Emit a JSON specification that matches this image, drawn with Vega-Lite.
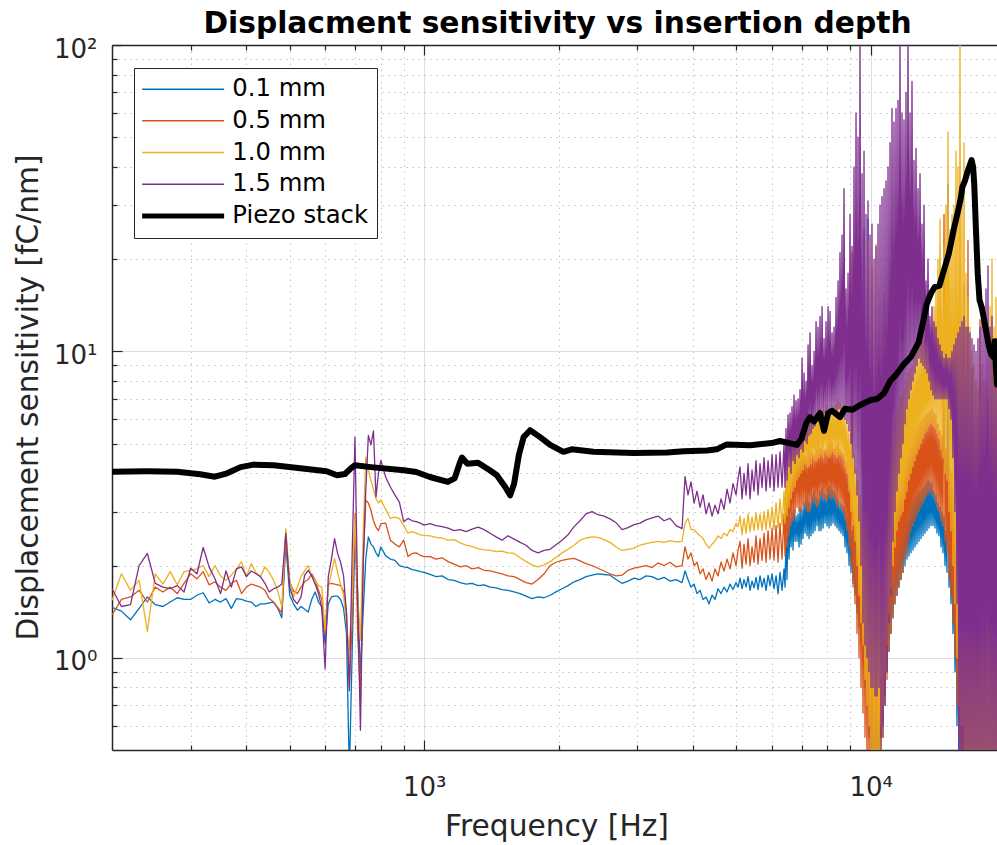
{
  "$schema": "https://vega.github.io/schema/vega-lite/v6.json",
  "width": 885,
  "height": 705,
  "autosize": {"type": "none"},
  "padding": {"left": 112, "top": 45, "right": 0, "bottom": 95},
  "background": "white",
  "title": {
    "text": "Displacment sensitivity vs insertion depth",
    "font": "DejaVu Sans",
    "fontSize": 29.7,
    "fontWeight": "bold",
    "color": "black",
    "anchor": "middle",
    "frame": "group",
    "baseline": "alphabetic",
    "offset": -27,
    "dx": 3
  },
  "config": {
    "view": {"stroke": null},
    "font": "DejaVu Sans"
  },
  "datasets": {
    "curves": [
      {"f":200,"a":1.46,"b":1.38,"c":1.54,"d":1.68},
      {"f":210,"a":1.42,"b":1.55,"c":1.88,"d":1.47},
      {"f":220,"a":1.33,"b":1.58,"c":1.66,"d":1.49},
      {"f":230,"a":1.45,"b":1.66,"c":1.79,"d":2.00},
      {"f":240,"a":1.58,"b":1.52,"c":1.22,"d":2.19},
      {"f":250,"a":1.49,"b":1.70,"c":1.88,"d":1.75},
      {"f":260,"a":1.47,"b":1.64,"c":1.74,"d":1.70},
      {"f":270,"a":1.52,"b":1.70,"c":1.91,"d":1.68},
      {"f":280,"a":1.57,"b":1.62,"c":1.73,"d":1.72},
      {"f":290,"a":1.55,"b":1.75,"c":1.91,"d":1.64},
      {"f":300,"a":1.55,"b":1.88,"c":1.93,"d":1.96},
      {"f":310,"a":1.60,"b":1.81,"c":1.95,"d":1.88},
      {"f":320,"a":1.63,"b":1.91,"c":2.00,"d":2.29},
      {"f":330,"a":1.51,"b":1.73,"c":1.84,"d":1.98},
      {"f":340,"a":1.55,"b":1.77,"c":2.00,"d":1.81},
      {"f":350,"a":1.52,"b":1.70,"c":1.85,"d":1.62},
      {"f":360,"a":1.56,"b":1.66,"c":1.79,"d":1.92},
      {"f":370,"a":1.45,"b":1.75,"c":1.86,"d":1.70},
      {"f":380,"a":1.56,"b":1.79,"c":1.95,"d":1.95},
      {"f":390,"a":1.55,"b":1.62,"c":2.06,"d":1.98},
      {"f":400,"a":1.53,"b":1.70,"c":1.84,"d":1.84},
      {"f":410,"a":1.52,"b":1.74,"c":2.03,"d":1.92},
      {"f":420,"a":1.47,"b":1.72,"c":1.90,"d":1.88},
      {"f":430,"a":1.50,"b":1.70,"c":1.84,"d":1.84},
      {"f":440,"a":1.50,"b":1.66,"c":1.98,"d":1.75},
      {"f":450,"a":1.51,"b":1.56,"c":1.90,"d":1.64},
      {"f":460,"a":1.52,"b":1.52,"c":1.79,"d":1.68},
      {"f":470,"a":1.45,"b":1.46,"c":1.65,"d":1.70},
      {"f":480,"a":1.35,"b":1.40,"c":1.47,"d":1.74},
      {"f":490,"a":2.36,"b":2.42,"c":2.64,"d":2.55},
      {"f":500,"a":1.60,"b":1.77,"c":1.79,"d":1.70},
      {"f":510,"a":1.50,"b":1.65,"c":1.58,"d":1.55},
      {"f":520,"a":1.43,"b":1.62,"c":1.70,"d":1.50},
      {"f":530,"a":1.47,"b":1.70,"c":1.84,"d":1.58},
      {"f":540,"a":1.44,"b":1.77,"c":1.92,"d":1.86},
      {"f":550,"a":1.41,"b":1.80,"c":2.00,"d":1.93},
      {"f":560,"a":1.55,"b":1.88,"c":1.85,"d":1.85},
      {"f":570,"a":1.64,"b":1.80,"c":1.79,"d":1.74},
      {"f":580,"a":1.52,"b":1.66,"c":1.72,"d":1.62},
      {"f":590,"a":1.47,"b":1.55,"c":1.70,"d":1.45},
      {"f":600,"a":1.11,"b":1.20,"c":1.23,"d":0.92},
      {"f":610,"a":1.50,"b":1.74,"c":1.70,"d":1.84},
      {"f":620,"a":1.58,"b":1.75,"c":1.90,"d":2.10},
      {"f":630,"a":1.59,"b":1.74,"c":2.11,"d":2.45},
      {"f":640,"a":1.59,"b":1.73,"c":1.90,"d":2.19},
      {"f":650,"a":1.55,"b":1.72,"c":1.74,"d":2.05},
      {"f":660,"a":1.45,"b":1.65,"c":1.60,"d":1.85},
      {"f":670,"a":1.20,"b":1.40,"c":1.30,"d":1.40},
      {"f":680,"a":0.42,"b":0.80,"c":1.06,"d":0.78},
      {"f":690,"a":1.05,"b":1.30,"c":1.60,"d":2.20},
      {"f":700,"a":2.55,"b":2.96,"c":2.96,"d":5.25},
      {"f":710,"a":1.60,"b":1.20,"c":1.60,"d":1.50},
      {"f":720,"a":0.89,"b":0.73,"c":1.14,"d":0.58},
      {"f":730,"a":1.40,"b":2.00,"c":2.50,"d":2.00},
      {"f":740,"a":2.10,"b":3.27,"c":4.52,"d":3.51},
      {"f":750,"a":2.48,"b":3.20,"c":4.10,"d":5.32},
      {"f":760,"a":2.35,"b":3.03,"c":3.80,"d":4.95},
      {"f":770,"a":2.30,"b":2.80,"c":3.55,"d":5.50},
      {"f":780,"a":2.20,"b":2.67,"c":3.31,"d":3.35},
      {"f":790,"a":2.14,"b":2.60,"c":3.20,"d":4.00},
      {"f":800,"a":2.30,"b":2.74,"c":3.27,"d":4.41},
      {"f":820,"a":2.15,"b":2.75,"c":3.05,"d":3.89},
      {"f":840,"a":2.10,"b":2.42,"c":2.85,"d":3.61},
      {"f":860,"a":2.08,"b":2.35,"c":2.88,"d":3.40},
      {"f":880,"a":2.00,"b":2.30,"c":2.85,"d":3.22},
      {"f":900,"a":1.98,"b":2.42,"c":2.70,"d":2.78},
      {"f":920,"a":1.97,"b":2.14,"c":2.55,"d":2.85},
      {"f":940,"a":1.94,"b":2.19,"c":2.58,"d":2.80},
      {"f":960,"a":1.93,"b":2.20,"c":2.55,"d":2.78},
      {"f":980,"a":1.91,"b":2.16,"c":2.52,"d":2.75},
      {"f":1000,"a":1.90,"b":2.14,"c":2.51,"d":2.71},
      {"f":1031,"a":1.87,"b":2.14,"c":2.50,"d":2.74},
      {"f":1063,"a":1.84,"b":2.10,"c":2.47,"d":2.70},
      {"f":1097,"a":1.85,"b":2.12,"c":2.46,"d":2.68},
      {"f":1131,"a":1.80,"b":2.06,"c":2.42,"d":2.65},
      {"f":1167,"a":1.79,"b":2.02,"c":2.43,"d":2.60},
      {"f":1204,"a":1.76,"b":1.98,"c":2.37,"d":2.62},
      {"f":1241,"a":1.74,"b":2.00,"c":2.33,"d":2.58},
      {"f":1280,"a":1.75,"b":1.95,"c":2.31,"d":2.63},
      {"f":1321,"a":1.72,"b":1.97,"c":2.27,"d":2.67},
      {"f":1362,"a":1.73,"b":1.93,"c":2.25,"d":2.62},
      {"f":1405,"a":1.70,"b":1.92,"c":2.24,"d":2.55},
      {"f":1449,"a":1.69,"b":1.90,"c":2.22,"d":2.48},
      {"f":1494,"a":1.67,"b":1.88,"c":2.23,"d":2.42},
      {"f":1541,"a":1.66,"b":1.85,"c":2.20,"d":2.50},
      {"f":1590,"a":1.64,"b":1.84,"c":2.19,"d":2.44},
      {"f":1640,"a":1.62,"b":1.80,"c":2.12,"d":2.38},
      {"f":1691,"a":1.59,"b":1.76,"c":2.06,"d":2.33},
      {"f":1744,"a":1.56,"b":1.74,"c":2.01,"d":2.24},
      {"f":1799,"a":1.58,"b":1.80,"c":1.98,"d":2.20},
      {"f":1856,"a":1.57,"b":1.88,"c":2.01,"d":2.24},
      {"f":1914,"a":1.60,"b":2.00,"c":2.06,"d":2.26},
      {"f":1974,"a":1.64,"b":2.05,"c":2.13,"d":2.34},
      {"f":2036,"a":1.68,"b":2.08,"c":2.20,"d":2.42},
      {"f":2100,"a":1.72,"b":2.10,"c":2.26,"d":2.52},
      {"f":2166,"a":1.77,"b":2.11,"c":2.33,"d":2.68},
      {"f":2234,"a":1.80,"b":2.07,"c":2.42,"d":2.80},
      {"f":2304,"a":1.84,"b":2.03,"c":2.46,"d":2.95},
      {"f":2377,"a":1.86,"b":2.00,"c":2.48,"d":3.00},
      {"f":2451,"a":1.88,"b":1.96,"c":2.47,"d":2.93},
      {"f":2528,"a":1.87,"b":1.92,"c":2.43,"d":2.90},
      {"f":2608,"a":1.86,"b":1.88,"c":2.38,"d":2.84},
      {"f":2690,"a":1.80,"b":1.85,"c":2.30,"d":2.76},
      {"f":2774,"a":1.75,"b":1.86,"c":2.24,"d":2.62},
      {"f":2861,"a":1.78,"b":1.93,"c":2.26,"d":2.66},
      {"f":2951,"a":1.82,"b":1.96,"c":2.28,"d":2.72},
      {"f":3044,"a":1.80,"b":1.98,"c":2.33,"d":2.75},
      {"f":3139,"a":1.85,"b":2.00,"c":2.36,"d":2.82},
      {"f":3238,"a":1.84,"b":1.97,"c":2.38,"d":2.86},
      {"f":3340,"a":1.80,"b":2.04,"c":2.40,"d":2.90},
      {"f":3445,"a":1.83,"b":2.00,"c":2.38,"d":2.80},
      {"f":3553,"a":1.78,"b":2.05,"c":2.41,"d":2.85},
      {"f":3665,"a":1.80,"b":1.98,"c":2.39,"d":2.70},
      {"f":3780,"a":1.76,"b":2.00,"c":2.40,"d":2.64},
      {"f":3838,"a":1.92,"b":2.30,"c":2.75,"d":3.90},
      {"f":3898,"a":1.80,"b":2.10,"c":2.85,"d":3.40},
      {"f":3959,"a":1.70,"b":2.20,"c":2.62,"d":3.75},
      {"f":4021,"a":1.74,"b":2.00,"c":2.62,"d":3.20},
      {"f":4083,"a":1.62,"b":2.05,"c":2.55,"d":3.50},
      {"f":4147,"a":1.66,"b":1.88,"c":2.50,"d":3.10},
      {"f":4212,"a":1.55,"b":1.95,"c":2.45,"d":3.40},
      {"f":4277,"a":1.58,"b":1.80,"c":2.35,"d":2.95},
      {"f":4344,"a":1.50,"b":1.90,"c":2.28,"d":3.20},
      {"f":4412,"a":1.60,"b":1.78,"c":2.35,"d":2.90},
      {"f":4480,"a":1.55,"b":1.95,"c":2.40,"d":3.15},
      {"f":4550,"a":1.68,"b":1.85,"c":2.50,"d":2.95},
      {"f":4621,"a":1.62,"b":2.05,"c":2.45,"d":3.30},
      {"f":4693,"a":1.70,"b":1.92,"c":2.55,"d":3.05},
      {"f":4766,"a":1.64,"b":2.10,"c":2.50,"d":3.55},
      {"f":4841,"a":1.74,"b":1.95,"c":2.62,"d":3.20},
      {"f":4916,"a":1.67,"b":2.20,"c":2.58,"d":3.70},
      {"f":4993,"a":1.76,"b":2.00,"c":2.75,"d":3.40},
      {"f":5046,"a":1.70,"b":2.25,"c":2.68,"d":3.85},
      {"f":5097,"a":1.82,"b":2.40,"c":2.90,"d":4.2},
      {"f":5150,"a":1.68,"b":1.96,"c":2.52,"d":3.3},
      {"f":5203,"a":1.80,"b":2.35,"c":2.85,"d":4.0},
      {"f":5257,"a":1.70,"b":2.02,"c":2.55,"d":3.4},
      {"f":5312,"a":1.84,"b":2.45,"c":2.95,"d":4.3},
      {"f":5367,"a":1.66,"b":2.00,"c":2.58,"d":3.3},
      {"f":5422,"a":1.78,"b":2.30,"c":2.88,"d":4.1},
      {"f":5479,"a":1.69,"b":2.05,"c":2.60,"d":3.5},
      {"f":5535,"a":1.83,"b":2.50,"c":2.97,"d":4.4},
      {"f":5593,"a":1.67,"b":2.02,"c":2.62,"d":3.4},
      {"f":5651,"a":1.85,"b":2.45,"c":2.95,"d":4.3},
      {"f":5710,"a":1.70,"b":2.08,"c":2.60,"d":3.6},
      {"f":5769,"a":1.82,"b":2.55,"c":3.00,"d":4.5},
      {"f":5829,"a":1.66,"b":2.05,"c":2.62,"d":3.5},
      {"f":5889,"a":1.86,"b":2.60,"c":3.05,"d":4.4},
      {"f":5950,"a":1.72,"b":2.10,"c":2.65,"d":3.6},
      {"f":6012,"a":1.88,"b":2.65,"c":3.10,"d":4.6},
      {"f":6074,"a":1.68,"b":2.08,"c":2.62,"d":3.5},
      {"f":6137,"a":1.85,"b":2.70,"c":3.20,"d":4.6},
      {"f":6201,"a":1.62,"b":2.05,"c":2.65,"d":3.6},
      {"f":6264,"a":1.90,"b":2.75,"c":3.30,"d":4.7},
      {"f":6329,"a":1.66,"b":2.10,"c":2.70,"d":3.6},
      {"f":6395,"a":1.95,"b":2.95,"c":3.50,"d":5.0},
      {"f":6428,"a":1.70,"b":2.15,"c":2.75,"d":3.6},
      {"f":6461,"a":2.50,"b":3.50,"c":4.20,"d":5.6},
      {"f":6494,"a":1.80,"b":2.30,"c":2.90,"d":3.8},
      {"f":6528,"a":2.80,"b":3.90,"c":4.60,"d":6.2},
      {"f":6562,"a":2.10,"b":2.50,"c":3.10,"d":4.2},
      {"f":6596,"a":2.85,"b":4.10,"c":4.90,"d":6.3},
      {"f":6630,"a":2.30,"b":2.70,"c":3.30,"d":4.0},
      {"f":6664,"a":3.00,"b":4.40,"c":5.20,"d":6.6},
      {"f":6699,"a":2.25,"b":2.80,"c":3.50,"d":4.4},
      {"f":6733,"a":3.05,"b":4.50,"c":5.40,"d":7.2},
      {"f":6768,"a":2.40,"b":2.90,"c":3.60,"d":4.3},
      {"f":6803,"a":2.90,"b":4.70,"c":5.50,"d":6.9},
      {"f":6838,"a":2.40,"b":3.10,"c":3.80,"d":4.6},
      {"f":6874,"a":2.95,"b":4.60,"c":5.60,"d":7.0},
      {"f":6909,"a":2.30,"b":3.00,"c":3.90,"d":4.5},
      {"f":6945,"a":3.10,"b":4.80,"c":5.80,"d":7.5},
      {"f":6981,"a":2.35,"b":3.00,"c":4.00,"d":4.8},
      {"f":7017,"a":3.05,"b":4.90,"c":6.00,"d":9.5},
      {"f":7053,"a":2.45,"b":3.10,"c":4.10,"d":4.7},
      {"f":7090,"a":3.20,"b":4.60,"c":5.90,"d":8.5},
      {"f":7126,"a":2.55,"b":3.15,"c":4.30,"d":5.1},
      {"f":7164,"a":3.35,"b":4.50,"c":5.80,"d":8.0},
      {"f":7201,"a":2.50,"b":3.00,"c":4.20,"d":5.0},
      {"f":7238,"a":3.25,"b":4.70,"c":6.00,"d":10.5},
      {"f":7275,"a":2.45,"b":3.00,"c":4.20,"d":5.3},
      {"f":7312,"a":3.20,"b":4.90,"c":6.20,"d":11.5},
      {"f":7350,"a":2.50,"b":3.10,"c":4.30,"d":5.4},
      {"f":7388,"a":3.40,"b":4.70,"c":6.10,"d":9.0},
      {"f":7426,"a":2.55,"b":3.30,"c":4.50,"d":5.6},
      {"f":7465,"a":3.50,"b":4.60,"c":6.00,"d":10.0},
      {"f":7503,"a":2.60,"b":3.20,"c":4.40,"d":5.7},
      {"f":7542,"a":3.35,"b":4.80,"c":6.30,"d":12.5},
      {"f":7581,"a":2.70,"b":3.10,"c":4.40,"d":6.0},
      {"f":7620,"a":3.30,"b":5.00,"c":6.60,"d":12.0},
      {"f":7659,"a":2.60,"b":3.20,"c":4.50,"d":5.9},
      {"f":7699,"a":3.50,"b":4.85,"c":6.50,"d":13.0},
      {"f":7739,"a":2.60,"b":3.40,"c":4.60,"d":6.1},
      {"f":7779,"a":3.60,"b":4.90,"c":6.30,"d":14.0},
      {"f":7819,"a":2.65,"b":3.30,"c":4.50,"d":6.0},
      {"f":7860,"a":3.45,"b":4.75,"c":6.40,"d":11.0},
      {"f":7900,"a":2.75,"b":3.30,"c":4.70,"d":6.3},
      {"f":7941,"a":3.40,"b":4.80,"c":6.70,"d":12.5},
      {"f":7982,"a":2.70,"b":3.25,"c":4.60,"d":6.2},
      {"f":8024,"a":3.60,"b":5.00,"c":6.50,"d":14.0},
      {"f":8065,"a":2.65,"b":3.40,"c":4.50,"d":6.4},
      {"f":8106,"a":3.65,"b":5.10,"c":6.50,"d":13.5},
      {"f":8148,"a":2.70,"b":3.30,"c":4.60,"d":6.3},
      {"f":8190,"a":3.55,"b":5.05,"c":6.60,"d":11.5},
      {"f":8232,"a":2.75,"b":3.35,"c":4.70,"d":6.5},
      {"f":8275,"a":3.50,"b":4.80,"c":6.60,"d":12.0},
      {"f":8318,"a":2.70,"b":3.30,"c":4.60,"d":6.4},
      {"f":8361,"a":3.40,"b":4.90,"c":6.70,"d":15.0},
      {"f":8404,"a":2.65,"b":3.10,"c":4.50,"d":6.4},
      {"f":8448,"a":3.30,"b":5.00,"c":6.90,"d":17.0},
      {"f":8491,"a":2.60,"b":3.20,"c":4.60,"d":6.5},
      {"f":8535,"a":3.20,"b":4.80,"c":6.80,"d":21.0},
      {"f":8579,"a":2.55,"b":3.10,"c":4.60,"d":6.4},
      {"f":8623,"a":3.15,"b":4.70,"c":6.50,"d":24.0},
      {"f":8668,"a":2.50,"b":3.00,"c":4.50,"d":6.3},
      {"f":8713,"a":3.10,"b":4.60,"c":6.40,"d":34.0},
      {"f":8758,"a":2.30,"b":2.80,"c":4.20,"d":6.0},
      {"f":8803,"a":3.00,"b":4.40,"c":6.00,"d":16.0},
      {"f":8848,"a":2.20,"b":2.60,"c":4.00,"d":5.8},
      {"f":8895,"a":2.90,"b":4.30,"c":5.70,"d":18.0},
      {"f":8941,"a":2.00,"b":2.30,"c":3.50,"d":5.5},
      {"f":8987,"a":2.80,"b":4.00,"c":5.40,"d":28.0},
      {"f":9033,"a":1.90,"b":2.00,"c":3.00,"d":5.0},
      {"f":9080,"a":2.60,"b":21.0,"c":5.00,"d":22.0},
      {"f":9127,"a":1.75,"b":1.70,"c":2.70,"d":4.5},
      {"f":9174,"a":2.30,"b":3.80,"c":4.60,"d":40.0},
      {"f":9221,"a":1.60,"b":1.50,"c":2.40,"d":4.0},
      {"f":9269,"a":2.00,"b":3.40,"c":4.20,"d":60.0},
      {"f":9317,"a":1.40,"b":1.20,"c":2.00,"d":3.4},
      {"f":9365,"a":1.90,"b":3.10,"c":3.80,"d":50.0},
      {"f":9413,"a":1.25,"b":1.00,"c":1.60,"d":2.8},
      {"f":9462,"a":1.70,"b":2.80,"c":3.40,"d":110},
      {"f":9511,"a":1.10,"b":0.80,"c":1.30,"d":2.0},
      {"f":9560,"a":1.60,"b":2.60,"c":3.20,"d":38.0},
      {"f":9609,"a":0.95,"b":0.66,"c":1.10,"d":1.3},
      {"f":9659,"a":25.0,"b":2.30,"c":3.00,"d":45.0},
      {"f":9709,"a":0.80,"b":0.55,"c":0.85,"d":1.1},
      {"f":9759,"a":1.50,"b":2.20,"c":2.70,"d":28.0},
      {"f":9809,"a":0.70,"b":0.45,"c":0.70,"d":1.0},
      {"f":9860,"a":27.0,"b":2.00,"c":23.0,"d":31.0},
      {"f":9911,"a":0.55,"b":0.42,"c":0.60,"d":0.9},
      {"f":9962,"a":1.40,"b":2.00,"c":2.40,"d":24.0},
      {"f":10013,"a":0.45,"b":0.42,"c":0.50,"d":0.8},
      {"f":10065,"a":1.40,"b":1.85,"c":18.9,"d":26.0},
      {"f":10117,"a":0.42,"b":0.42,"c":0.48,"d":0.8},
      {"f":10170,"a":1.35,"b":1.80,"c":2.30,"d":20.0},
      {"f":10222,"a":0.42,"b":0.42,"c":0.45,"d":0.75},
      {"f":10275,"a":1.30,"b":1.70,"c":22.4,"d":22.0},
      {"f":10328,"a":0.42,"b":0.42,"c":0.45,"d":0.75},
      {"f":10382,"a":1.45,"b":1.90,"c":2.60,"d":26.0},
      {"f":10435,"a":0.42,"b":0.42,"c":0.48,"d":0.8},
      {"f":10489,"a":1.50,"b":2.00,"c":3.00,"d":30.0},
      {"f":10543,"a":0.50,"b":0.48,"c":0.60,"d":0.55},
      {"f":10598,"a":1.60,"b":2.30,"c":3.50,"d":32.0},
      {"f":10653,"a":0.55,"b":0.55,"c":0.70,"d":0.6},
      {"f":10708,"a":1.70,"b":2.40,"c":15.4,"d":34.0},
      {"f":10763,"a":0.75,"b":0.70,"c":0.90,"d":0.7},
      {"f":10819,"a":1.85,"b":2.80,"c":4.20,"d":36.0},
      {"f":10875,"a":0.90,"b":0.85,"c":1.10,"d":0.9},
      {"f":10931,"a":1.90,"b":3.00,"c":4.50,"d":40.0},
      {"f":10987,"a":1.05,"b":1.05,"c":1.40,"d":1.3},
      {"f":11044,"a":2.10,"b":3.20,"c":5.00,"d":48.0},
      {"f":11101,"a":1.20,"b":1.20,"c":1.70,"d":1.6},
      {"f":11158,"a":2.20,"b":3.40,"c":5.30,"d":62.0},
      {"f":11216,"a":1.35,"b":1.35,"c":2.00,"d":2.4},
      {"f":11274,"a":2.40,"b":3.70,"c":5.80,"d":56.0},
      {"f":11332,"a":1.50,"b":1.50,"c":2.30,"d":3.0},
      {"f":11391,"a":2.50,"b":3.80,"c":6.00,"d":62.0},
      {"f":11449,"a":1.60,"b":1.60,"c":2.60,"d":3.5},
      {"f":11509,"a":2.60,"b":4.10,"c":6.50,"d":66.0},
      {"f":11568,"a":1.70,"b":1.70,"c":2.80,"d":4.0},
      {"f":11628,"a":2.70,"b":4.30,"c":7.00,"d":110},
      {"f":11688,"a":1.80,"b":1.80,"c":2.90,"d":4.5},
      {"f":11748,"a":2.80,"b":4.50,"c":7.20,"d":60.0},
      {"f":11809,"a":1.90,"b":1.90,"c":3.00,"d":5.0},
      {"f":11870,"a":2.85,"b":4.60,"c":7.50,"d":57.0},
      {"f":11932,"a":2.00,"b":2.10,"c":3.30,"d":5.8},
      {"f":11993,"a":2.95,"b":4.90,"c":8.00,"d":70.0},
      {"f":12055,"a":2.10,"b":2.20,"c":3.50,"d":6.5},
      {"f":12117,"a":3.00,"b":5.10,"c":8.50,"d":110},
      {"f":12180,"a":2.15,"b":2.40,"c":3.80,"d":7.0},
      {"f":12243,"a":3.10,"b":5.20,"c":8.80,"d":60.0},
      {"f":12306,"a":2.20,"b":2.60,"c":4.00,"d":7.5},
      {"f":12370,"a":3.20,"b":5.30,"c":9.00,"d":76.0},
      {"f":12434,"a":2.25,"b":2.70,"c":4.20,"d":8.0},
      {"f":12498,"a":3.30,"b":5.50,"c":9.50,"d":42.0},
      {"f":12563,"a":2.30,"b":2.80,"c":4.40,"d":8.5},
      {"f":12628,"a":3.40,"b":5.60,"c":10.0,"d":46.0},
      {"f":12693,"a":2.35,"b":2.90,"c":4.60,"d":9.0},
      {"f":12759,"a":3.45,"b":5.80,"c":10.2,"d":34.0},
      {"f":12825,"a":2.40,"b":3.00,"c":4.80,"d":9.5},
      {"f":12891,"a":3.50,"b":5.90,"c":10.5,"d":38.0},
      {"f":12958,"a":2.45,"b":3.10,"c":5.00,"d":9.2},
      {"f":13024,"a":3.55,"b":6.00,"c":10.8,"d":26.0},
      {"f":13092,"a":2.50,"b":3.20,"c":5.20,"d":9.0},
      {"f":13159,"a":3.60,"b":6.10,"c":11.0,"d":30.0},
      {"f":13227,"a":2.55,"b":3.30,"c":5.40,"d":8.8},
      {"f":13296,"a":3.70,"b":6.20,"c":11.0,"d":17.0},
      {"f":13364,"a":2.60,"b":3.40,"c":5.50,"d":8.5},
      {"f":13433,"a":3.80,"b":6.30,"c":11.0,"d":20.0},
      {"f":13503,"a":2.65,"b":3.45,"c":5.70,"d":8.0},
      {"f":13573,"a":3.75,"b":6.40,"c":11.5,"d":13.0},
      {"f":13643,"a":2.70,"b":3.50,"c":5.80,"d":7.5},
      {"f":13713,"a":3.70,"b":6.50,"c":12.0,"d":14.0},
      {"f":13784,"a":2.70,"b":3.40,"c":5.70,"d":7.2},
      {"f":13855,"a":3.50,"b":6.30,"c":14.0,"d":12.5},
      {"f":13927,"a":2.65,"b":3.30,"c":5.60,"d":7.0},
      {"f":13999,"a":3.40,"b":6.20,"c":16.0,"d":12.0},
      {"f":14071,"a":2.55,"b":3.10,"c":5.40,"d":7.0},
      {"f":14144,"a":3.20,"b":5.80,"c":20.0,"d":11.0},
      {"f":14217,"a":2.50,"b":3.00,"c":5.20,"d":7.0},
      {"f":14291,"a":3.10,"b":5.50,"c":27.0,"d":10.5},
      {"f":14365,"a":2.30,"b":2.80,"c":4.80,"d":7.0},
      {"f":14439,"a":3.00,"b":5.30,"c":18.0,"d":10.0},
      {"f":14514,"a":2.20,"b":2.70,"c":4.50,"d":7.0},
      {"f":14589,"a":2.90,"b":28.0,"c":22.0,"d":9.5},
      {"f":14664,"a":2.00,"b":2.40,"c":4.00,"d":7.0},
      {"f":14740,"a":2.60,"b":4.80,"c":30.0,"d":9.8},
      {"f":14817,"a":1.90,"b":2.20,"c":3.80,"d":7.0},
      {"f":14893,"a":35.0,"b":5.00,"c":52.0,"d":9.5},
      {"f":14970,"a":1.70,"b":1.80,"c":3.00,"d":6.5},
      {"f":15047,"a":2.30,"b":4.20,"c":25.0,"d":9.5},
      {"f":15125,"a":1.50,"b":1.60,"c":2.60,"d":6.0},
      {"f":15203,"a":2.20,"b":4.00,"c":28.0,"d":10.0},
      {"f":15282,"a":1.20,"b":1.30,"c":2.00,"d":4.5},
      {"f":15360,"a":1.90,"b":3.50,"c":30.0,"d":10.5},
      {"f":15440,"a":0.90,"b":1.00,"c":1.50,"d":3.0},
      {"f":15519,"a":1.60,"b":3.00,"c":45.0,"d":11.0},
      {"f":15600,"a":0.60,"b":0.70,"c":1.00,"d":1.5},
      {"f":15680,"a":1.40,"b":2.80,"c":40.0,"d":11.5},
      {"f":15761,"a":0.42,"b":0.55,"c":0.70,"d":0.45},
      {"f":15843,"a":1.20,"b":2.50,"c":110,"d":12.0},
      {"f":15925,"a":0.42,"b":0.45,"c":0.60,"d":0.42},
      {"f":16007,"a":3.00,"b":2.20,"c":30.0,"d":12.5},
      {"f":16090,"a":0.42,"b":0.42,"c":0.60,"d":0.42},
      {"f":16173,"a":16.6,"b":2.00,"c":48.0,"d":13.0},
      {"f":16257,"a":0.42,"b":0.42,"c":0.50,"d":0.42},
      {"f":16340,"a":2.20,"b":3.00,"c":18.0,"d":12.0},
      {"f":16425,"a":0.42,"b":0.42,"c":0.50,"d":0.42},
      {"f":16509,"a":2.00,"b":23.0,"c":15.0,"d":12.0},
      {"f":16595,"a":0.42,"b":0.42,"c":0.45,"d":0.42},
      {"f":16681,"a":3.50,"b":2.80,"c":12.0,"d":11.5},
      {"f":16767,"a":0.42,"b":0.42,"c":0.45,"d":0.42},
      {"f":16853,"a":8.80,"b":2.50,"c":10.0,"d":11.0},
      {"f":16940,"a":0.42,"b":0.42,"c":0.45,"d":0.42},
      {"f":17028,"a":2.80,"b":3.20,"c":9.0,"d":10.5},
      {"f":17116,"a":0.42,"b":0.42,"c":0.45,"d":0.42},
      {"f":17205,"a":2.50,"b":3.00,"c":8.00,"d":10.0},
      {"f":17294,"a":0.42,"b":0.42,"c":0.45,"d":0.42},
      {"f":17383,"a":2.40,"b":4.00,"c":7.5,"d":11.0},
      {"f":17473,"a":0.42,"b":0.42,"c":0.45,"d":0.42},
      {"f":17564,"a":2.20,"b":12.7,"c":7.00,"d":12.0},
      {"f":17654,"a":0.42,"b":0.42,"c":0.45,"d":0.42},
      {"f":17745,"a":2.60,"b":3.00,"c":9.0,"d":13.0},
      {"f":17837,"a":0.42,"b":0.42,"c":0.45,"d":0.42},
      {"f":17929,"a":2.50,"b":3.00,"c":8.00,"d":14.0},
      {"f":18022,"a":0.42,"b":0.42,"c":0.45,"d":0.42},
      {"f":18115,"a":2.20,"b":3.50,"c":8.0,"d":16.0},
      {"f":18209,"a":0.42,"b":0.42,"c":0.45,"d":0.42},
      {"f":18303,"a":2.00,"b":2.80,"c":7.00,"d":19.0},
      {"f":18398,"a":0.42,"b":0.42,"c":0.45,"d":0.42},
      {"f":18493,"a":2.40,"b":3.00,"c":14.0,"d":12.0},
      {"f":18589,"a":0.42,"b":0.42,"c":0.45,"d":0.42},
      {"f":18684,"a":2.30,"b":3.20,"c":20.0,"d":13.0},
      {"f":18781,"a":0.42,"b":0.42,"c":0.45,"d":0.42},
      {"f":18878,"a":2.10,"b":3.20,"c":12.0,"d":10.5},
      {"f":18976,"a":0.42,"b":0.42,"c":0.45,"d":0.42},
      {"f":19074,"a":2.00,"b":3.00,"c":15.0,"d":11.0},
      {"f":19173,"a":0.42,"b":0.42,"c":0.45,"d":0.42}
    ],
    "stack": [
      {"f":200,"v":4.05},{"f":240,"v":4.06},{"f":280,"v":4.05},{"f":315,"v":3.97},
      {"f":340,"v":3.90},{"f":362,"v":4.00},{"f":388,"v":4.19},{"f":415,"v":4.27},
      {"f":460,"v":4.25},{"f":522,"v":4.16},{"f":605,"v":4.06},{"f":638,"v":3.94},
      {"f":665,"v":3.98},{"f":685,"v":4.15},{"f":700,"v":4.25},{"f":760,"v":4.19},
      {"f":900,"v":4.09},{"f":960,"v":4.04},{"f":1030,"v":3.89},{"f":1130,"v":3.75},
      {"f":1170,"v":3.85},{"f":1200,"v":4.30},{"f":1215,"v":4.50},{"f":1250,"v":4.30},
      {"f":1320,"v":4.33},{"f":1400,"v":4.10},{"f":1455,"v":3.94},{"f":1520,"v":3.60},
      {"f":1558,"v":3.39},{"f":1590,"v":3.70},{"f":1630,"v":4.60},{"f":1670,"v":5.25},
      {"f":1727,"v":5.53},{"f":1818,"v":5.25},{"f":1915,"v":4.95},{"f":2050,"v":4.70},
      {"f":2140,"v":4.79},{"f":2393,"v":4.70},{"f":2940,"v":4.66},{"f":3500,"v":4.68},
      {"f":3810,"v":4.72},{"f":4300,"v":4.75},{"f":4520,"v":4.79},{"f":4760,"v":4.97},
      {"f":5370,"v":4.94},{"f":6000,"v":5.02},{"f":6260,"v":5.10},{"f":6830,"v":4.95},
      {"f":7000,"v":5.20},{"f":7164,"v":5.82},{"f":7312,"v":6.10},{"f":7465,"v":5.90},
      {"f":7699,"v":6.28},{"f":7860,"v":5.50},{"f":8024,"v":6.28},{"f":8190,"v":6.40},
      {"f":8535,"v":6.10},{"f":8758,"v":6.50},{"f":9100,"v":6.45},{"f":9500,"v":6.70},
      {"f":10000,"v":6.94},{"f":10350,"v":7.00},{"f":10700,"v":7.30},{"f":11050,"v":8.00},
      {"f":11400,"v":8.40},{"f":11800,"v":9.00},{"f":12300,"v":9.60},{"f":12800,"v":10.7},
      {"f":13100,"v":12.5},{"f":13350,"v":14.3},{"f":13650,"v":15.5},{"f":13900,"v":16.2},
      {"f":14250,"v":16.4},{"f":14600,"v":18.5},{"f":14950,"v":20.8},{"f":15350,"v":25.1},
      {"f":15700,"v":28.9},{"f":15900,"v":31.5},{"f":16040,"v":34.4},{"f":16250,"v":36.0},
      {"f":16470,"v":38.6},{"f":16820,"v":42.1},{"f":16950,"v":40.0},{"f":17050,"v":35.2},
      {"f":17200,"v":25.0},{"f":17360,"v":17.9},{"f":17520,"v":14.7},{"f":17700,"v":14.0},
      {"f":17900,"v":12.9},{"f":18100,"v":11.8},{"f":18360,"v":10.5},{"f":18600,"v":9.8},
      {"f":18800,"v":9.6},{"f":18950,"v":10.8},{"f":19050,"v":9.0},{"f":19173,"v":7.8}
    ]
  },
  "layer": [
    {
      "data": {"name": "curves"},
      "mark": {"type": "line", "clip": true, "strokeWidth": 1.3, "strokeJoin": "round"},
      "encoding": {
        "x": {
          "field": "f", "type": "quantitative",
          "scale": {"type": "log", "domain": [200, 19173], "nice": false},
          "axis": {
            "orient": "bottom", "values": [1000, 10000],
            "labelExpr": "datum.value < 5000 ? '10³' : '10⁴'",
            "grid": true, "gridColor": "#dedede", "gridWidth": 1,
            "tickSize": -10, "tickColor": "#262626", "tickWidth": 1.2,
            "domain": true, "domainColor": "#262626", "domainWidth": 1.5,
            "labelFont": "DejaVu Sans", "labelFontSize": 26, "labelColor": "#262626",
            "labelPadding": 34, "labelBaseline": "top", "labelFlush": false, "labelOverlap": false,
            "title": "Frequency [Hz]", "titleFont": "DejaVu Sans", "titleFontSize": 29.7,
            "titleFontWeight": "normal", "titleColor": "#262626",
            "titleX": 444.5, "titleY": 85, "titleBaseline": "alphabetic", "titleAlign": "center"
          }
        },
        "y": {
          "field": "a", "type": "quantitative",
          "scale": {"type": "log", "domain": [0.5, 100], "nice": false},
          "axis": {
            "orient": "left", "values": [1, 10, 100],
            "labelExpr": "datum.value < 5 ? '10⁰' : datum.value < 50 ? '10¹' : '10²'",
            "grid": true, "gridColor": "#dedede", "gridWidth": 1,
            "tickSize": -10, "tickColor": "#262626", "tickWidth": 1.2,
            "domain": true, "domainColor": "#262626", "domainWidth": 1.5,
            "labelFont": "DejaVu Sans", "labelFontSize": 26, "labelColor": "#262626",
            "labelPadding": 25, "labelBaseline": "middle", "labelAlign": "right", "labelOffset": 4,
            "labelFlush": false, "labelOverlap": false,
            "title": "Displacement sensitivity [fC/nm]", "titleFont": "DejaVu Sans", "titleFontSize": 29.7,
            "titleFontWeight": "normal", "titleColor": "#262626",
            "titleX": -75, "titleY": 352, "titleAngle": -90, "titleBaseline": "alphabetic", "titleAlign": "center"
          }
        },
        "color": {
          "datum": "0.1 mm",
          "scale": {
            "domain": ["0.1 mm", "0.5 mm", "1.0 mm", "1.5 mm", "Piezo stack"],
            "range": ["#0072BD", "#D95319", "#EDB120", "#7E2F8E", "#000000"]
          },
          "legend": {
            "orient": "none", "legendX": 22, "legendY": 23,
            "title": null,
            "fillColor": "white", "strokeColor": "#262626",
            "padding": 9,
            "labelFont": "DejaVu Sans", "labelFontSize": 24.3, "labelColor": "black",
            "symbolType": "M-4,0H4", "symbolSize": 420, "symbolStrokeWidth": 1.5,
            "symbolOffset": 28, "labelOffset": 37, "rowPadding": 6.7,
            "encode": {
              "symbols": {"update": {"strokeWidth": {"signal": "datum.value === 'Piezo stack' ? 5 : 1.5"}}}
            }
          }
        }
      }
    },
    {
      "data": {"name": "curves"},
      "mark": {"type": "line", "clip": true, "strokeWidth": 1.3, "strokeJoin": "round"},
      "encoding": {
        "x": {
          "field": "f", "type": "quantitative",
          "axis": {
            "orient": "bottom",
            "values": [300, 400, 500, 600, 700, 800, 900, 2000, 3000, 4000, 5000, 6000, 7000, 8000, 9000],
            "labels": false, "grid": true, "gridColor": "#c4c4c4", "gridDash": [1.5, 4.5], "gridWidth": 1,
            "tickSize": -5, "tickColor": "#262626", "tickWidth": 1.2, "domain": false, "title": null
          }
        },
        "y": {
          "field": "b", "type": "quantitative",
          "axis": {
            "orient": "left",
            "values": [0.6, 0.7, 0.8, 0.9, 2, 3, 4, 5, 6, 7, 8, 9, 20, 30, 40, 50, 60, 70, 80, 90],
            "labels": false, "grid": true, "gridColor": "#c4c4c4", "gridDash": [1.5, 4.5], "gridWidth": 1,
            "tickSize": -5, "tickColor": "#262626", "tickWidth": 1.2, "domain": false, "title": null
          }
        },
        "color": {"datum": "0.5 mm"}
      }
    },
    {
      "data": {"name": "curves"},
      "mark": {"type": "line", "clip": true, "strokeWidth": 1.3, "strokeJoin": "round"},
      "encoding": {
        "x": {
          "field": "f", "type": "quantitative",
          "axis": {
            "orient": "top", "values": [1000, 10000], "labels": false, "grid": false,
            "tickSize": -10, "tickColor": "#262626", "tickWidth": 1.2,
            "domain": true, "domainColor": "#262626", "domainWidth": 1.5, "title": null
          }
        },
        "y": {"field": "c", "type": "quantitative", "axis": null},
        "color": {"datum": "1.0 mm"}
      }
    },
    {
      "data": {"name": "curves"},
      "mark": {"type": "line", "clip": true, "strokeWidth": 1.3, "strokeJoin": "round"},
      "encoding": {
        "x": {
          "field": "f", "type": "quantitative",
          "axis": {
            "orient": "top",
            "values": [300, 400, 500, 600, 700, 800, 900, 2000, 3000, 4000, 5000, 6000, 7000, 8000, 9000],
            "labels": false, "grid": false,
            "tickSize": -5, "tickColor": "#262626", "tickWidth": 1.2, "domain": false, "title": null
          }
        },
        "y": {"field": "d", "type": "quantitative", "axis": null},
        "color": {"datum": "1.5 mm"}
      }
    },
    {
      "data": {"name": "stack"},
      "mark": {"type": "line", "clip": true, "strokeWidth": 6, "strokeJoin": "round", "strokeCap": "round"},
      "encoding": {
        "x": {"field": "f", "type": "quantitative", "axis": null},
        "y": {"field": "v", "type": "quantitative", "axis": null},
        "color": {"datum": "Piezo stack"}
      }
    }
  ],
  "resolve": {"axis": {"x": "independent", "y": "independent"}}
}
